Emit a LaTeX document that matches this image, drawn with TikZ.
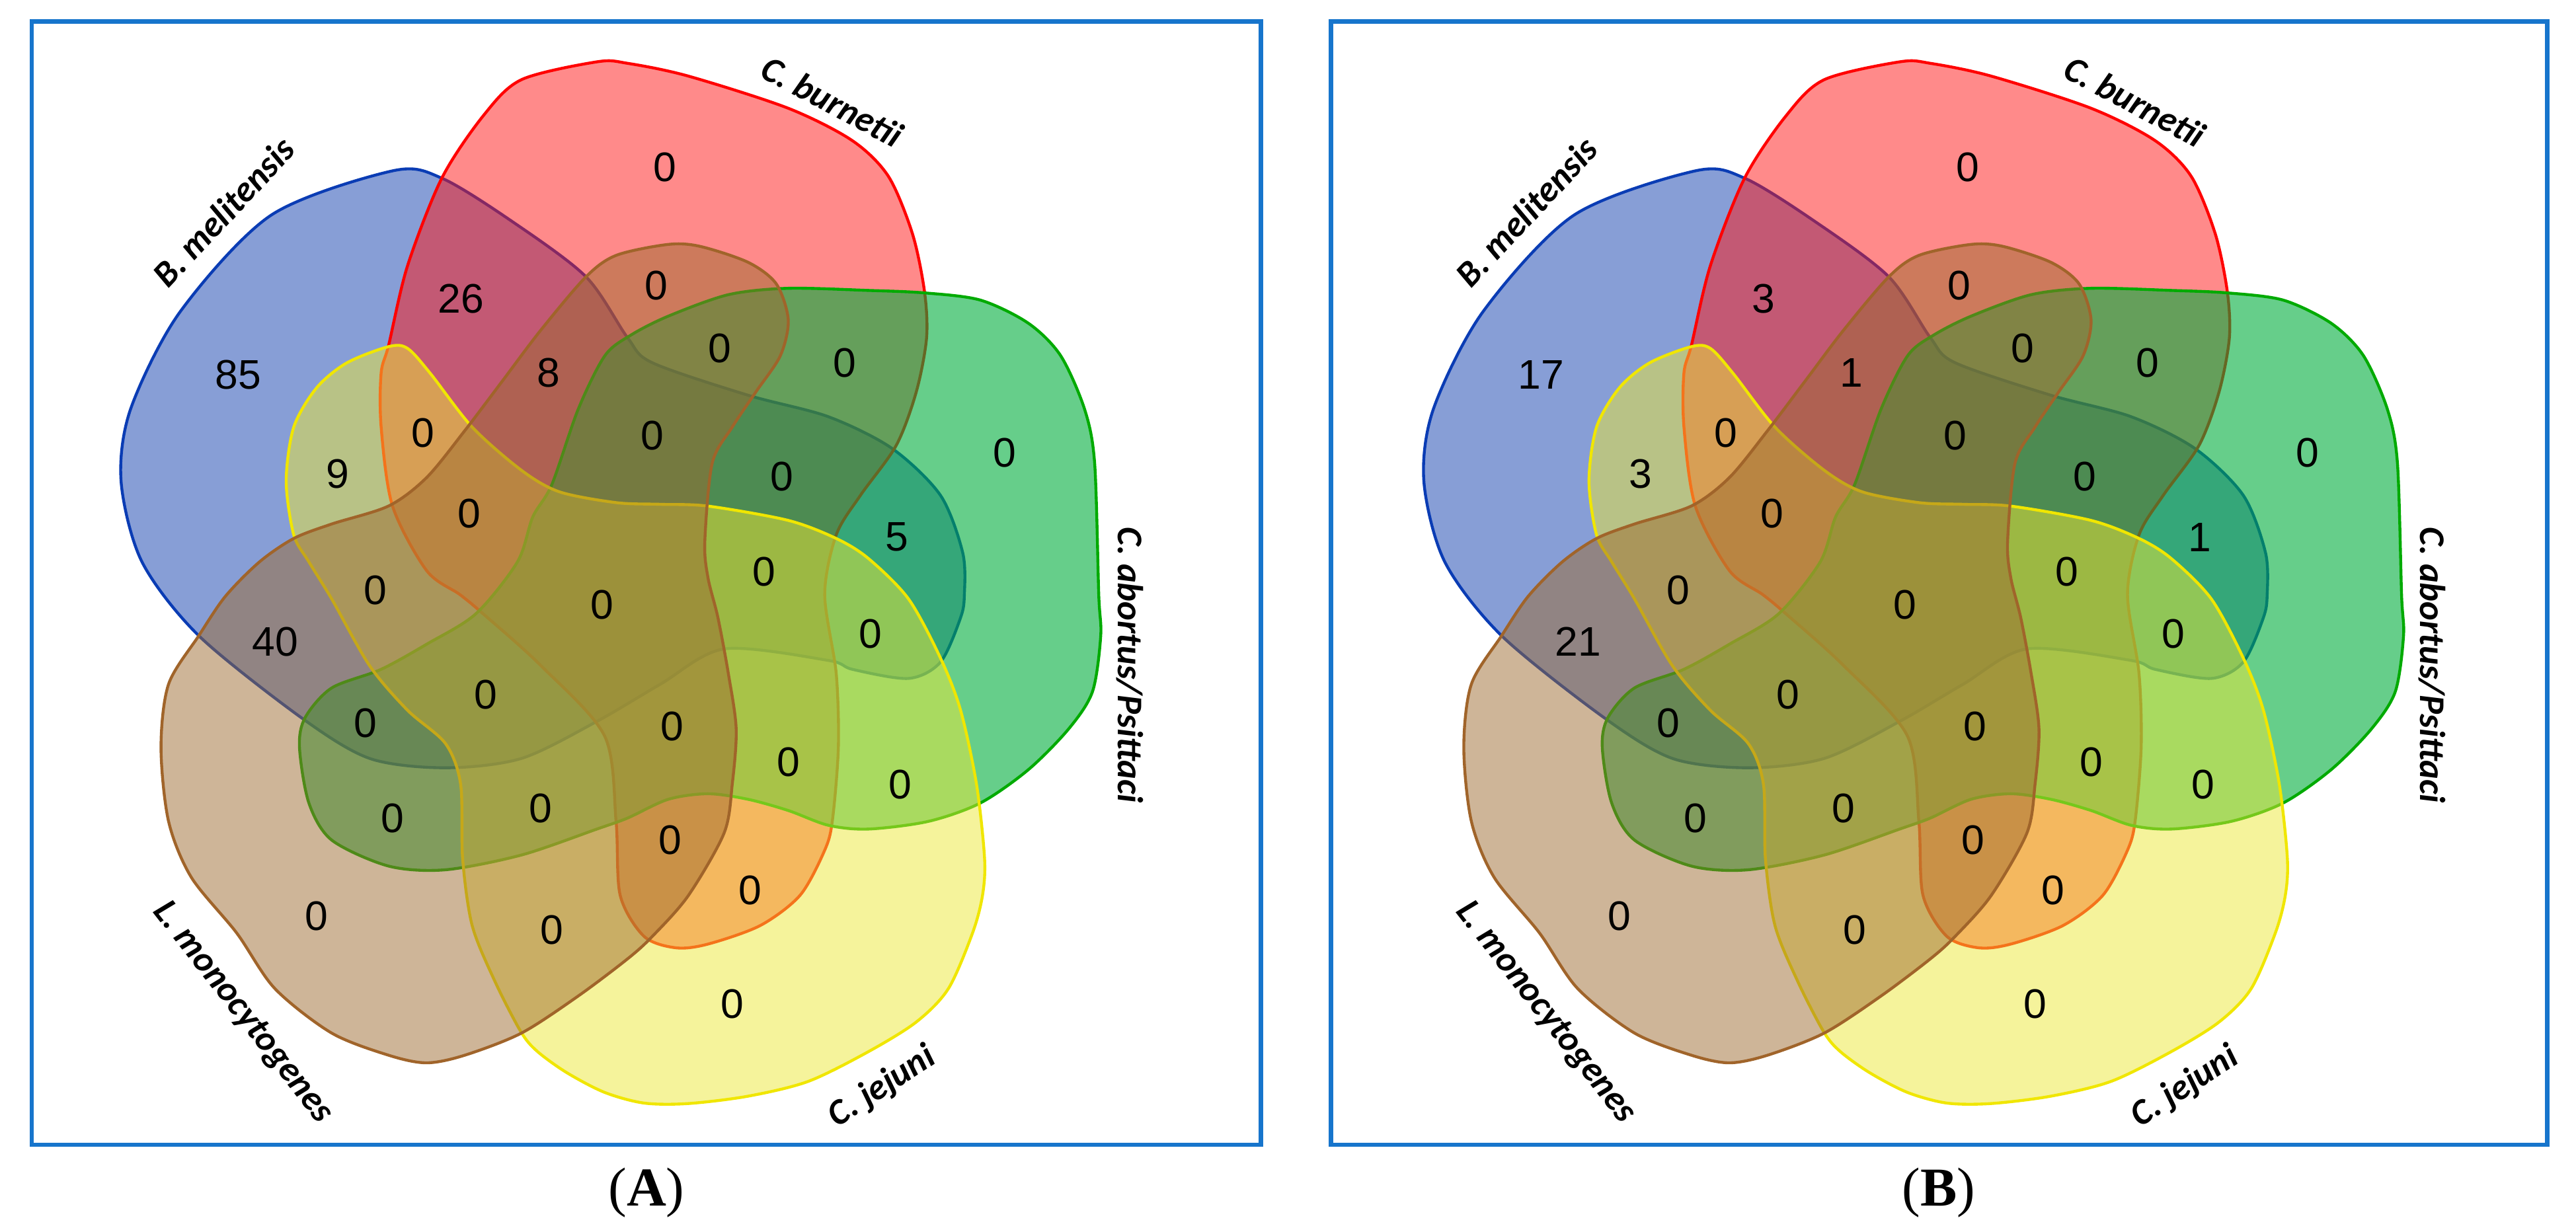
\documentclass[tikz,border=0pt]{standalone}
\usepackage{fontspec}
\setmainfont{Liberation Sans}
\newfontfamily\speciesfont{Carlito}
\newfontfamily\captionfont{Liberation Serif}

\definecolor{melblue}{RGB}{15,61,173}
\definecolor{melline}{RGB}{10,60,180}
\definecolor{burred}{RGB}{255,21,21}
\definecolor{burline}{RGB}{255,0,0}
\definecolor{abogreen}{RGB}{0,173,60}
\definecolor{aboline}{RGB}{0,170,0}
\definecolor{jejyellow}{RGB}{235,231,55}
\definecolor{jejline}{RGB}{240,230,0}
\definecolor{monbrown}{RGB}{157,107,49}
\definecolor{monline}{RGB}{160,100,42}
\definecolor{frameblue}{RGB}{23,117,204}

\begin{document}
\begin{tikzpicture}[x=0.02cm, y=-0.02cm,
        venn/.style={line width=1pt, fill opacity=0.5},
        num/.style={font=\fontsize{14.3}{16}\selectfont, inner sep=0pt},
        species/.style={font=\speciesfont\bfseries\itshape\fontsize{12.5}{14}\selectfont, inner sep=0pt},
        panel/.style={draw=frameblue, line width=1.5pt},
        caption/.style={font=\captionfont\fontsize{19}{22}\selectfont, inner sep=0pt}
    ]
        \useasboundingbox (0,0) rectangle (1568,750);

        % Panel frames
        \draw[panel] (19.4,13) rectangle (767.5,696.8);
        \draw[panel] (810.1,13) rectangle (1550.4,696.8);

        % Same five sets in both panels
        \foreach \px in {0,793} {
        \begin{scope}[shift={(\px,0)}]
            % B. melitensis
            \path[venn, fill=melblue, draw=melline] plot[smooth cycle] coordinates {
                (239,104) (269,108.5) (312,135) (356.7,168.5) (382,205.6) (397,220.8) (455,240.5) (504,253.6)
                (543,273) (572.5,301.6) (586,336.5) (587,362) (584.7,376) (572.5,403) (553,413) (519,407.5)
                (504,402) (441,395) (402,416.5) (363.6,439) (317.4,461.7) (271,467.4) (225,461.7) (183.4,436.9)
                (121,387) (86.4,342) (73.7,293) (79.5,249) (109.5,190) (165,131)};
            % C. burnetii
            \path[venn, fill=burred, draw=burline] plot[smooth cycle] coordinates {
                (363.6,37.6) (382.3,38.6) (418.9,46.3) (479.8,65.9) (518.8,85.6) (540.8,107.4) (555.4,142.3)
                (562.7,177.2) (564,205.6) (557.8,238.3) (545.6,271) (523.7,301.6) (509,325.6) (502,362) (509,410)
                (510.3,455) (506.6,500) (501.8,518) (487,545) (462.8,563.4) (431,574.7) (411.5,577) (392,570)
                (377.5,545) (375,500) (368,448) (329,405) (294,373.6) (280,362) (259.7,347.4) (238.9,308)
                (232,260) (232,227) (236.6,210) (248,162) (268.9,108.5) (294.3,70.3) (317.4,48.5)};
            % C. abortus/Psittaci
            \path[venn, fill=abogreen, draw=aboline, fill opacity=0.6] plot[smooth cycle] coordinates {
                (182.3,455) (185.7,436.9) (201.9,418.8) (231.9,407.5) (260,392) (289.7,373.6) (315,342)
                (324.3,314.7) (335.9,295) (352,249) (368.2,216.5) (384,204) (406.7,192.5) (443.3,179.4)
                (479.8,175.5) (528.6,176.8) (562.7,178.3) (596.8,182.7) (626,196.8) (645.6,216.5) (660.2,249.2)
                (666.3,282) (668.8,362) (670,387) (665,421) (650.5,443.7) (626,468.5) (596.8,488.8) (565.2,500)
                (528.6,504.7) (504.2,502.4) (479.8,493.4) (455.4,486.6) (431,483.2) (406.7,486.6) (382,498)
                (363.6,504.6) (317.4,520.5) (271,529.5) (236.4,527.2) (201.9,511.4) (188,488.8)};
            % C. jejuni
            \path[venn, fill=jejyellow, draw=jejline] plot[smooth cycle] coordinates {
                (174.2,292.9) (178.8,260) (192.7,236.1) (211.1,220.9) (236.6,211) (248.1,212.1) (262,227.4)
                (287.4,260) (317.4,286.3) (340.5,299.4) (375.2,306) (402,307) (431,308.1) (479.8,316.8)
                (509,327.8) (528.6,340) (553,364.6) (572.5,400.7) (584.7,432.4) (594.4,477.5) (599.3,522.7)
                (598,545.3) (592,567.9) (577.3,601.8) (557.8,622.1) (528.6,640.2) (492,658.3) (455.4,667.3)
                (418.9,671.8) (392,671.5) (368,665) (345,653) (327,640) (317,628) (301.2,597.3) (287.4,563.4)
                (281.6,522.7) (280.4,477.5) (271.2,452.7) (248.1,432.4) (225,405.3) (201.9,364.6) (188,342)
                (178.8,325.6)};
            % L. monocytogenes
            \path[venn, fill=monbrown, draw=monline] plot[smooth cycle] coordinates {
                (479.8,194.7) (475,216.5) (460.3,238.3) (445.7,260) (433.5,282) (429,330) (431,352) (437,376)
                (443.3,409.8) (448.1,443.7) (445.7,477.5) (440.8,507) (418.9,545.3) (396.9,570.2) (382,583.7)
                (352,606.3) (317.4,628.9) (282.8,642.4) (259.6,647) (236.6,642.4) (201.9,628.9) (167.3,601.8)
                (144.1,568) (116.4,534) (102.6,500) (98,455) (102.6,416.5) (121,387) (137.2,363) (158,342)
                (178.8,327.8) (201.9,319) (236.6,308) (259.7,290.7) (282.8,262.3) (305.9,231.8) (329,201.2)
                (356.7,168.5) (375.2,155.4) (406.7,148.8) (426.2,150) (455.4,159.7) (472.5,172.8)};

            % Set names
            \node[species, rotate=47] (mel\px) at (136,129) {B. melitensis};
            \node[species, rotate=-28] (bur\px) at (506.6,61.6) {C. burnetii};
            \node[species, rotate=-90] (abo\px) at (687.6,405) {C. abortus/Psittaci};
            \node[species, rotate=33] (jej\px) at (537,661.7) {C. jejuni};
            \node[species, rotate=-52] (mon\px) at (147.6,616.5) {L. monocytogenes};
        \end{scope}
        }

        % Region counts, panel A then panel B
        \foreach \x/\y/\a/\b [count=\i] in {145/228/85/17, 280.5/182/26/3, 334/227/8/1, 399.5/174/0/0,
                404.7/102/0/0, 438/212/0/0, 514/221/0/0, 611.5/275.5/0/0, 205.5/288.5/9/3, 257.5/263.5/0/0,
                397/265/0/0, 476/290/0/0, 546/327/5/1, 285.5/312.5/0/0, 228.5/359.5/0/0, 366.5/368/0/0,
                465/348/0/0, 530/386/0/0, 167.5/390.5/40/21, 295.5/423/0/0, 222.5/440/0/0, 409/442/0/0,
                480/464/0/0, 548/477.5/0/0, 239/498/0/0, 329/492/0/0, 408/511.5/0/0, 456.5/542/0/0,
                192.7/557.5/0/0, 336/566/0/0, 445.7/611/0/0} {
            \node[num] (a\i) at (\x,\y) {\a};
            \node[num] (b\i) at (\x+793,\y) {\b};
        }

        % Captions
        \node[caption] (capA) at (393.5,726) {(\textbf{A})};
        \node[caption] (capB) at (1180.2,726) {(\textbf{B})};
    \end{tikzpicture}
\end{document}
